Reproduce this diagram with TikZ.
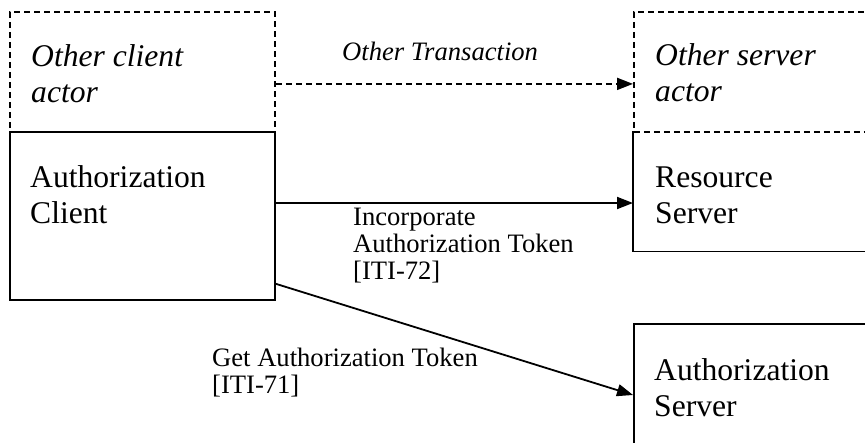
\documentclass[tikz,border=0pt]{standalone}
\usepackage{fontspec}
\setmainfont{Liberation Serif}
\usetikzlibrary{arrows.meta}
\tikzset{
  box/.style={draw, line width=1.8pt, rectangle, inner sep=0pt, anchor=north west},
  dbox/.style={box, dash pattern=on 6pt off 4pt},
  nobox/.style={rectangle, inner sep=0pt, anchor=north west},
  big/.style={font=\fontsize{31.6}{35.8}\selectfont, align=left, anchor=base west, inner sep=0pt},
  bigit/.style={big, font=\fontsize{31.6}{35.8}\selectfont\itshape},
  small/.style={font=\fontsize{26.6}{27}\selectfont, align=left, anchor=base west, inner sep=0pt},
  smallit/.style={small, font=\fontsize{26.6}{27}\selectfont\itshape},
  conn/.style={line width=1.8pt, -{Triangle[length=16pt,width=12pt]}},
  dconn/.style={conn, dash pattern=on 6pt off 4pt},
}
\begin{document}
\begin{tikzpicture}[x=1pt, y=-1pt]
\clip (0,0) rectangle (865,442);
\fill[white] (0,0) rectangle (865,442);
% boxes
\node[dbox, minimum width=265pt, minimum height=120pt] (oclient) at (9,11) {};
\node[box, minimum width=265pt, minimum height=168pt] (client) at (9,131) {};
\node[dbox, minimum width=260pt, minimum height=120pt] (oserver) at (633,11) {};
\node[nobox, minimum width=260pt, minimum height=120pt] (resource) at (633,131) {};
\draw[line width=1.8pt] (resource.north west) -- (resource.south west) -- (resource.south east);
\node[box, minimum width=260pt, minimum height=150pt] (authserver) at (633,323) {};
% box texts
\node[bigit] (toclient) at (31,102) {Other client\\actor};
\node[big] (tclient) at (30,223) {Authorization\\Client};
\node[bigit] (toserver) at (655,101) {Other server\\actor};
\node[big] (tresource) at (655,223) {Resource\\Server};
\node[big] (tauth) at (654,416) {Authorization\\Server};
% connectors
\draw[dconn] ([yshift=-12pt]oclient.east) -- ([yshift=-12pt]oserver.west);
\draw[conn] (client.north east |- 0,203) coordinate (a1) -- (a1 -| resource.west);
\draw[conn] ([yshift=17pt]client.south east) -- (authserver.west |- 0,395);
% labels
\node[smallit] (lother) at (342,60) {Other Transaction};
\node[small] (lincorp) at (353,279) {Incorporate\\Authorization Token\\{[ITI-72]}};
\node[small] (lget) at (212,393) {Get Authorization Token\\{[ITI-71]}};
\end{tikzpicture}
\end{document}
